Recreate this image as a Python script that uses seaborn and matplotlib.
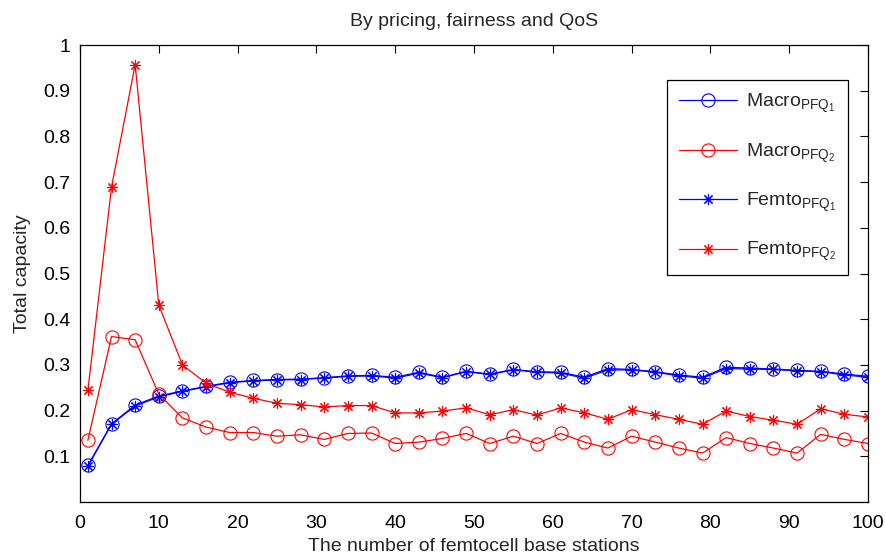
import numpy as np
import pandas as pd
import matplotlib
matplotlib.use("Agg")
import matplotlib.pyplot as plt
import seaborn as sns

# ---- data ----
n_fbs = [1, 4, 7, 10, 13, 16, 19, 22, 25, 28, 31, 34, 37, 40, 43, 46, 49, 52,
         55, 58, 61, 64, 67, 70, 73, 76, 79, 82, 85, 88, 91, 94, 97, 100]

macro_pfq1 = [0.080, 0.171, 0.212, 0.232, 0.243, 0.253, 0.262, 0.266, 0.268, 0.269,
              0.272, 0.276, 0.277, 0.273, 0.284, 0.273, 0.286, 0.280, 0.290, 0.285,
              0.284, 0.273, 0.292, 0.290, 0.285, 0.278, 0.273, 0.295, 0.293, 0.291,
              0.288, 0.286, 0.280, 0.275]
femto_pfq1 = [0.078, 0.170, 0.210, 0.230, 0.242, 0.252, 0.261, 0.265, 0.267, 0.268,
              0.271, 0.275, 0.276, 0.271, 0.282, 0.272, 0.285, 0.279, 0.289, 0.284,
              0.282, 0.271, 0.289, 0.289, 0.284, 0.276, 0.271, 0.292, 0.291, 0.290,
              0.287, 0.285, 0.278, 0.273]
macro_pfq2 = [0.135, 0.362, 0.355, 0.236, 0.184, 0.164, 0.152, 0.152, 0.144, 0.147,
              0.137, 0.150, 0.151, 0.128, 0.131, 0.139, 0.150, 0.128, 0.144, 0.128,
              0.150, 0.131, 0.118, 0.144, 0.131, 0.118, 0.107, 0.141, 0.128, 0.118,
              0.107, 0.148, 0.137, 0.128]
femto_pfq2 = [0.244, 0.689, 0.957, 0.431, 0.300, 0.260, 0.240, 0.227, 0.216, 0.213,
              0.208, 0.211, 0.211, 0.195, 0.195, 0.199, 0.206, 0.191, 0.202, 0.190,
              0.206, 0.195, 0.181, 0.202, 0.191, 0.181, 0.170, 0.199, 0.187, 0.179,
              0.170, 0.204, 0.192, 0.186]

labels = [r"Macro$_{\mathregular{PFQ_1}}$", r"Macro$_{\mathregular{PFQ_2}}$",
          r"Femto$_{\mathregular{PFQ_1}}$", r"Femto$_{\mathregular{PFQ_2}}$"]
x_ticks = [0, 10, 20, 30, 40, 50, 60, 70, 80, 90, 100]
y_ticks = [0.1, 0.2, 0.3, 0.4, 0.5, 0.6, 0.7, 0.8, 0.9, 1.0]
y_ticklabels = ["0.1", "0.2", "0.3", "0.4", "0.5", "0.6", "0.7", "0.8", "0.9", "1"]

# ---- style ----
sns.set_theme(style="white")
plt.rcParams["font.family"] = ["Liberation Sans", "DejaVu Sans"]
plt.rcParams["mathtext.fontset"] = "custom"
plt.rcParams["mathtext.rm"] = "Liberation Sans"
plt.rcParams["mathtext.it"] = "Liberation Sans:italic"
plt.rcParams["mathtext.bf"] = "Liberation Sans:bold"

FS = 14

fig = plt.figure(figsize=(8.86, 5.55), dpi=100)
ax = fig.add_axes([80 / 886, 1 - 502 / 555, 788 / 886, 457 / 555])

series = [
    (macro_pfq1, "#0000ff", "o", labels[0]),
    (macro_pfq2, "#ff0000", "o", labels[1]),
    (femto_pfq1, "#0000ff", (8, 2, 0), labels[2]),
    (femto_pfq2, "#ff0000", (8, 2, 0), labels[3]),
]
for vals, col, mk, lab in series:
    df = pd.DataFrame({"x": n_fbs, "y": vals})
    ms = 9.5 if mk == "o" else 8
    sns.lineplot(data=df, x="x", y="y", ax=ax, color=col, marker=mk,
                 markersize=ms, markerfacecolor="none", markeredgecolor=col,
                 markeredgewidth=0.8, linewidth=0.9, label=lab)

ax.set_xlim(0, 100)
ax.set_ylim(0, 1)
ax.set_xticks(x_ticks)
ax.set_yticks(y_ticks)
ax.set_yticklabels(y_ticklabels)
ax.tick_params(direction="in", top=True, right=True, length=6, width=0.8,
               labelsize=FS, colors="black", pad=7)
ax.tick_params(axis="x", pad=9)
for s in ax.spines.values():
    s.set_color("black")
    s.set_linewidth(0.9)

ax.set_xlabel("The number of femtocell base stations", fontsize=FS, labelpad=5)
ax.set_ylabel("Total capacity", fontsize=FS, labelpad=9)
ax.set_title("By pricing, fairness and QoS", fontsize=FS, pad=14)

leg = ax.legend(loc="upper right", bbox_to_anchor=(0.975, 0.923), borderaxespad=0,
                fontsize=FS, frameon=True, fancybox=False, framealpha=1,
                edgecolor="black", handlelength=3.0, labelspacing=1.35,
                borderpad=0.6, handletextpad=0.45)
leg.get_frame().set_linewidth(0.9)

fig.savefig("out.png", dpi=100)
